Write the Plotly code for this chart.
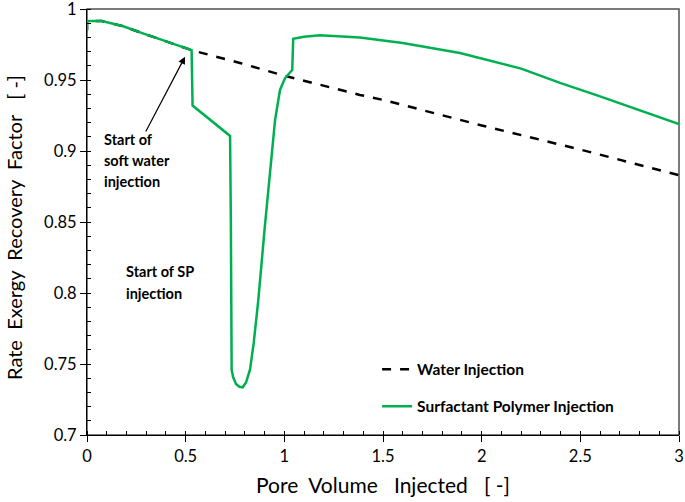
import plotly.graph_objects as go

# Water injection (dashed) - after start of soft water injection
water_x = [0.0, 0.0, 0.075, 0.18, 0.28, 0.4, 0.53, 0.775, 1.0, 1.383, 1.5, 2.0, 2.262, 2.5, 3.0]
water_y = [0.985, 0.9915, 0.9915, 0.988, 0.983, 0.977, 0.971, 0.962, 0.953, 0.9395, 0.936, 0.918, 0.909, 0.901, 0.883]

# Surfactant polymer injection (green)
sp_x = [0.0, 0.0, 0.075, 0.18, 0.28, 0.4, 0.53, 0.535, 0.725, 0.729, 0.733, 0.74, 0.755, 0.772, 0.789,
        0.806, 0.826, 0.845, 0.868, 0.9, 0.936, 0.953, 0.978, 1.003, 1.032, 1.04, 1.045, 1.1, 1.18,
        1.383, 1.6, 1.89, 2.2, 2.397, 2.6, 2.735, 2.9, 3.0]
sp_y = [0.985, 0.9915, 0.9915, 0.988, 0.983, 0.977, 0.971, 0.932, 0.9106, 0.85, 0.746, 0.741, 0.736, 0.734, 0.7336,
        0.737, 0.746, 0.765, 0.795, 0.845, 0.9007, 0.9218, 0.943, 0.9512, 0.9558, 0.957, 0.979, 0.9805, 0.9815,
        0.980, 0.976, 0.969, 0.958, 0.948, 0.9385, 0.932, 0.924, 0.919]

x_ticks = [0, 0.5, 1, 1.5, 2, 2.5, 3]
x_tick_labels = ["0", "0.5", "1", "1.5", "2", "2.5", "3"]
y_ticks = [0.7, 0.75, 0.8, 0.85, 0.9, 0.95, 1.0]
y_tick_labels = ["0.7", "0.75", "0.8", "0.85", "0.9", "0.95", "1"]

# annotation text lines
note_soft = ["Start of", "soft water", "injection"]
note_sp = ["Start of SP", "injection"]

FONT = "Lato"


def sp(n):
    return "\u00a0" * n


x_title = f"Pore{sp(2)}Volume{sp(3)}Injected{sp(3)}[\u00a0-]"
y_title = f"Rate{sp(2)}Exergy{sp(2)}Recovery{sp(2)}Factor{sp(3)}[\u00a0-]"

fig = go.Figure()
fig.add_trace(go.Scatter(
    x=water_x, y=water_y, mode="lines", name="Water Injection",
    line=dict(color="black", width=2.5, dash="dash"), legendgroup="a"))
fig.add_trace(go.Scatter(
    x=sp_x, y=sp_y, mode="lines", name="Surfactant Polymer Injection",
    line=dict(color="#00B050", width=2.5), legendgroup="b"))

fig.update_layout(
    width=685, height=502,
    margin=dict(l=87, r=6, t=9, b=67),
    plot_bgcolor="white", paper_bgcolor="white",
    font=dict(family=FONT, size=16, color="black"),
    legend=dict(x=0.49, y=0.11, xanchor="left", yanchor="middle",
                bgcolor="rgba(0,0,0,0)", font=dict(family=FONT, size=15.5, color="black", weight="bold"),
                tracegroupgap=14, itemwidth=30),
    showlegend=True,
)
fig.update_xaxes(
    range=[0, 3], tickvals=x_ticks, ticktext=x_tick_labels, automargin=False,
    ticklabeloverflow="allow",
    showgrid=False, zeroline=False, showline=True, linecolor="black", linewidth=1,
    ticks="outside", ticklen=6, tickcolor="black",
    minor=dict(dtick=0.1, ticks="inside", ticklen=4, tickcolor="black"),
    title=dict(text=x_title, font=dict(size=21), standoff=13),
    tickfont=dict(size=16.5),
)
fig.update_yaxes(
    range=[0.7, 1.0], tickvals=y_ticks, ticktext=y_tick_labels, automargin=False,
    ticklabeloverflow="allow", ticksuffix=sp(2),
    showgrid=False, zeroline=False, showline=True, linecolor="black", linewidth=1,
    ticks="outside", ticklen=6, tickcolor="black",
    minor=dict(dtick=0.01, ticks="inside", ticklen=4, tickcolor="black"),
    tickfont=dict(size=16.5),
)
# y-axis title as rotated text
fig.add_annotation(x=-0.1233, y=0.486, xref="paper", yref="paper", xanchor="center", yanchor="middle",
                   textangle=-90, showarrow=False, text=y_title,
                   font=dict(family=FONT, size=20, color="black"))

# frame top/right
fig.add_shape(type="rect", xref="paper", yref="paper", x0=0, y0=0, x1=1, y1=1,
              line=dict(color="#505050", width=1.5), layer="below")

fig.add_annotation(x=0.497, y=0.9664, ax=0.294, ay=0.9127, xref="x", yref="y", axref="x", ayref="y",
                   showarrow=True, arrowhead=2, arrowsize=1.2, arrowwidth=1.2, arrowcolor="black", text="")

soft_y = [0.9078, 0.8930, 0.8782]
for txt, yy in zip(note_soft, soft_y):
    fig.add_annotation(x=0.075, y=yy, xref="x", yref="y", xanchor="left", yanchor="middle",
                       showarrow=False, text=f"<b>{txt}</b>",
                       font=dict(family=FONT, size=14.5, color="black"))
sp_note_y = [0.8148, 0.8000]
for txt, yy in zip(note_sp, sp_note_y):
    fig.add_annotation(x=0.185, y=yy, xref="x", yref="y", xanchor="left", yanchor="middle",
                       showarrow=False, text=f"<b>{txt}</b>",
                       font=dict(family=FONT, size=14.5, color="black"))

fig.write_html("out.html", config={"displayModeBar": False},
               post_script="document.body.style.margin='0px';")
